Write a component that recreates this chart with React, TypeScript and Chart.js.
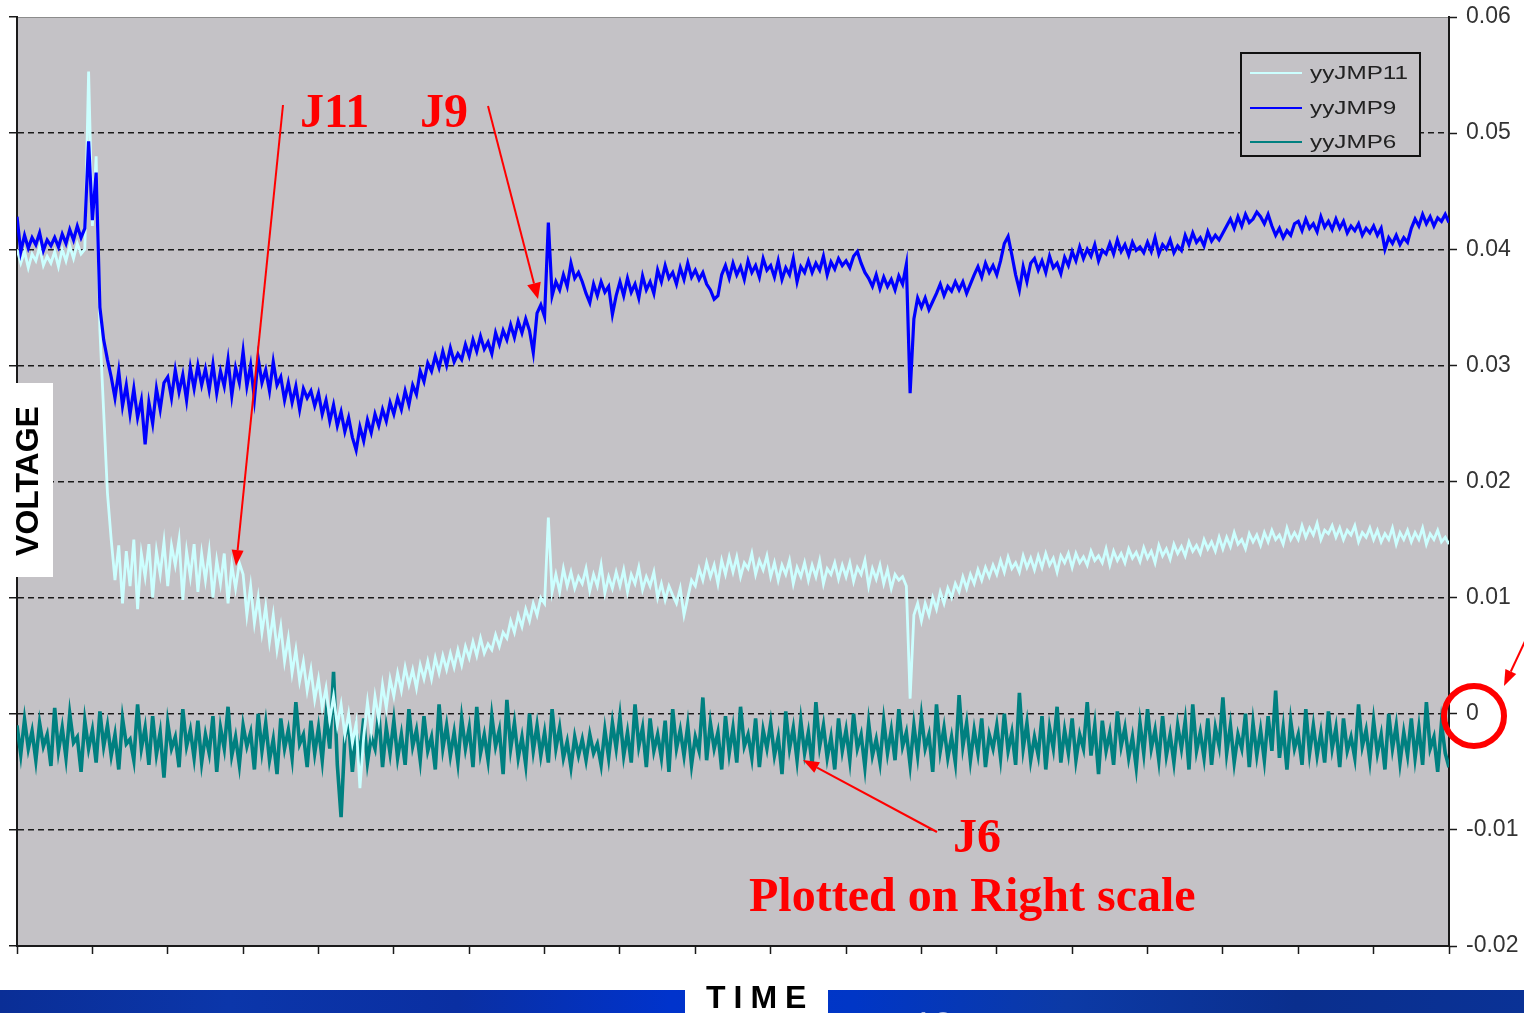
import React, { useEffect, useRef } from "react";
import { Chart, registerables } from "chart.js";

Chart.register(...registerables);

// ---------- DATA (values in units of 0.0001 V, one sample every 0.05 time-division) ----------
const SERIES_NAMES = ["yyJMP11", "yyJMP9", "yyJMP6"];
const SAMPLE_STEP = 0.05; // time divisions per sample
const TIME_DIVISIONS = 19;
const Y_MIN = -0.02;
const Y_MAX = 0.06;
const Y_STEP = 0.01;
const VALUE_UNIT = 0.0001;

// J9 (blue, left scale)
const yyJMP9 = [
  428,398,412,401,410,404,414,399,408,403,
  410,402,413,405,417,408,420,410,418,493,
  425,466,350,322,305,290,272,295,265,283,
  258,280,255,270,232,268,250,280,262,285,
  290,272,296,277,292,270,298,280,300,283,
  297,279,301,276,295,282,305,274,298,285,
  312,282,300,271,306,285,296,278,303,283,
  290,270,285,268,282,262,280,272,278,265,
  276,258,270,252,266,248,260,243,255,238,
  227,247,235,253,242,258,248,262,252,268,
  258,272,262,278,266,283,275,295,286,302,
  295,308,298,312,300,315,303,310,305,318,
  308,322,312,325,314,320,310,328,318,330,
  322,335,324,338,328,340,330,311,345,352,
  342,423,360,372,365,378,368,388,375,380,
  372,362,354,370,360,372,363,368,344,360,
  372,360,375,363,370,358,377,365,372,362,
  382,372,386,375,380,370,384,374,388,376,
  382,374,380,370,365,357,360,378,386,375,
  388,378,385,374,390,380,386,376,392,382,
  386,376,390,374,384,378,392,372,385,380,
  390,380,388,382,394,378,389,383,392,386,
  390,384,394,398,388,380,375,368,378,366,
  376,368,374,365,377,370,387,276,340,358,
  350,358,348,355,362,370,360,368,364,372,
  365,372,362,370,378,385,376,388,380,386,
  378,390,405,411,395,378,365,385,372,388,
  392,382,390,380,394,384,388,379,393,386,
  398,390,402,392,400,394,404,390,399,396,
  405,396,408,398,404,395,406,399,402,397,
  406,398,410,396,404,400,408,397,403,399,
  412,404,414,406,410,403,415,407,412,408,
  414,420,426,418,428,420,430,423,426,432,
  428,422,430,420,412,418,410,416,412,422,
  424,416,426,418,422,415,428,419,424,417,
  426,418,424,414,420,416,422,412,418,414,
  420,412,418,400,410,405,412,404,410,406,
  418,426,420,430,422,428,420,427,424,430,423,
];

// J11 (light cyan, left scale)
const yyJMP11 = [
  400,388,398,384,396,390,402,386,394,388,
  398,385,400,390,403,392,405,396,400,553,
  420,480,330,260,190,150,115,145,95,140,
  110,150,90,138,118,146,100,140,120,148,
  110,145,128,150,98,140,118,146,105,138,
  115,140,100,132,112,138,95,128,108,130,
  120,85,110,78,100,70,92,62,85,55,
  75,45,65,35,55,28,45,20,38,12,
  30,5,22,-5,15,-10,8,-18,0,-25,
  -8,-64,-20,10,-15,15,-5,25,5,30,
  15,35,20,40,25,38,22,42,30,45,
  30,48,35,50,38,52,40,55,42,58,
  48,62,50,65,52,60,55,68,58,70,
  65,80,70,85,75,90,80,95,85,100,
  95,169,105,120,105,125,110,122,108,118,
  112,125,106,120,110,128,104,118,108,122,
  110,124,105,120,112,126,107,118,110,122,
  100,112,98,110,102,95,108,85,100,115,
  110,125,115,130,118,128,112,132,120,135,
  122,135,118,130,125,138,120,132,124,136,
  118,130,115,128,120,132,112,126,118,130,
  115,128,118,132,112,125,120,130,116,128,
  118,130,114,126,120,132,110,125,116,128,
  112,124,108,120,115,118,110,13,85,95,
  80,95,85,100,90,105,95,108,100,112,
  105,118,108,120,112,124,115,126,118,128,
  120,132,122,135,125,130,122,136,126,134,
  124,136,126,138,128,134,122,136,130,138,
  126,138,130,135,128,140,132,136,130,142,
  128,140,132,138,130,142,134,139,131,143,
  134,140,130,145,136,142,133,146,138,144,
  136,148,140,145,138,150,142,148,140,152,
  142,152,144,156,146,150,142,155,148,154,
  145,156,148,158,150,154,146,160,150,156,
  150,162,152,160,154,164,150,158,155,162,
  152,160,150,158,154,162,148,156,152,160,
  150,158,148,155,150,160,146,156,150,158,
  148,156,150,160,146,155,150,158,148,152,146,
];

// J6 (teal, right scale)
const yyJMP6 = [
  -10,-35,-5,-30,-15,-40,-8,-28,-18,-45,
  5,-32,-12,-38,0,-25,-20,-50,-6,-30,
  -14,-42,2,-28,-10,-36,-18,-48,-4,-26,
  -22,-40,8,-30,-12,-44,-2,-35,-16,-55,
  -8,-30,-20,-46,4,-28,-14,-38,-6,-42,
  -18,-34,-2,-50,-12,-30,6,-36,-20,-44,
  -10,-28,-16,-48,0,-32,-8,-40,-22,-52,
  -4,-30,-14,-38,10,-26,-18,-46,-6,-34,
  -12,-40,-2,-30,36,-44,-89,-20,-8,-50,
  -16,-36,-4,-42,-20,-30,2,-46,-12,-34,
  -6,-38,-18,-44,4,-28,-14,-40,-2,-32,
  -20,-48,8,-30,-10,-36,-16,-42,-4,-30,
  -12,-46,6,-34,-18,-40,-2,-28,-14,-52,
  12,-30,-8,-38,-20,-44,0,-32,-10,-36,
  -16,-42,4,-30,-12,-38,-24,-46,-20,-36,
  -22,-40,-18,-34,-26,-44,-14,-38,-8,-30,
  -2,-36,-16,-42,8,-28,-12,-46,-4,-32,
  -18,-38,-6,-50,4,-30,-14,-36,-10,-44,
  -20,-32,14,-40,-8,-30,-16,-48,-2,-34,
  -12,-42,6,-28,-18,-38,-4,-46,-14,-30,
  -8,-36,-20,-52,2,-30,-12,-40,-6,-34,
  -16,-44,10,-28,-10,-38,-20,-48,-4,-32,
  -14,-40,0,-30,-18,-46,-8,-36,-22,-42,
  -6,-34,-14,-40,4,-28,-16,-44,-10,-36,
  -2,-30,-18,-50,8,-32,-12,-38,-20,-42,
  16,-28,-8,-40,-14,-34,-4,-46,-18,-30,
  -10,-38,0,-32,-16,-44,18,-30,-8,-40,
  -20,-36,-2,-48,-12,-30,6,-42,-14,-34,
  -4,-40,-18,-30,10,-36,-10,-52,-6,-32,
  -16,-44,2,-28,-12,-38,-20,-46,-8,-34,
  4,-30,-14,-40,-2,-36,-18,-42,-10,-30,
  -6,-48,8,-32,-16,-38,-4,-44,-12,-28,
  14,-34,-10,-42,-18,-30,0,-46,-8,-36,
  -14,-40,-2,-32,20,-38,-12,-48,-6,-30,
  -18,-44,4,-34,-10,-36,-16,-42,2,-30,
  -12,-46,-4,-32,-20,-38,8,-28,-14,-40,
  -6,-34,-18,-48,0,-30,-10,-42,-16,-36,
  -4,-38,-12,-44,10,-30,-20,-50,-8,-34,-46,
];

// ---------- STYLE ----------
const PLOT_BG = "#c4c2c6";
const AXIS_COLOR = "#1a1a1a";
const COLOR_J11 = "#ccffff";
const COLOR_J9 = "#0000ff";
const COLOR_J6 = "#008080";
const RED = "#ff0000";

const toPoints = (arr: number[]) =>
  arr.map((v, i) => ({ x: i * SAMPLE_STEP, y: v * VALUE_UNIT }));

const near = (a: number, b: number) => Math.abs(a - b) < 1e-9;

const plotBgPlugin = {
  id: "plotBg",
  beforeDraw(chart: any) {
    const { ctx, chartArea: a } = chart;
    ctx.save();
    ctx.fillStyle = PLOT_BG;
    ctx.fillRect(a.left, a.top, a.right - a.left, a.bottom - a.top);
    ctx.strokeStyle = "#8c8c8c";
    ctx.lineWidth = 1;
    ctx.beginPath();
    ctx.moveTo(a.left, a.top + 0.5);
    ctx.lineTo(a.right, a.top + 0.5);
    ctx.stroke();
    ctx.restore();
  },
};

function Arrow({ x1, y1, x2, y2, head = 16, half = 6 }: any) {
  const dx = x2 - x1;
  const dy = y2 - y1;
  const L = Math.hypot(dx, dy);
  const ux = dx / L;
  const uy = dy / L;
  const bx = x2 - ux * head;
  const by = y2 - uy * head;
  const px = -uy;
  const py = ux;
  return (
    <g>
      <line x1={x1} y1={y1} x2={bx} y2={by} stroke={RED} strokeWidth={2} />
      <polygon
        points={`${x2},${y2} ${bx + px * half},${by + py * half} ${bx - px * half},${by - py * half}`}
        fill={RED}
      />
    </g>
  );
}

export default function App() {
  const canvasRef = useRef<HTMLCanvasElement | null>(null);

  useEffect(() => {
    if (!canvasRef.current) return;
    const tickStyle = { tickLength: 8, tickColor: AXIS_COLOR, tickWidth: 1.5 };
    const chart = new Chart(canvasRef.current, {
      type: "line",
      data: {
        datasets: [
          {
            label: SERIES_NAMES[1],
            data: toPoints(yyJMP9),
            borderColor: COLOR_J9,
            borderWidth: 3.2,
            pointRadius: 0,
            tension: 0,
            yAxisID: "y",
          },
          {
            label: SERIES_NAMES[0],
            data: toPoints(yyJMP11),
            borderColor: COLOR_J11,
            borderWidth: 2.8,
            pointRadius: 0,
            tension: 0,
            yAxisID: "y",
          },
          {
            label: SERIES_NAMES[2],
            data: toPoints(yyJMP6),
            borderColor: COLOR_J6,
            borderWidth: 3.6,
            pointRadius: 0,
            tension: 0,
            yAxisID: "y1",
          },
        ],
      },
      options: {
        responsive: false,
        maintainAspectRatio: false,
        animation: false,
        devicePixelRatio: 1,
        events: [],
        layout: { padding: { top: 17, left: 0, right: 0, bottom: 0 } },
        plugins: { legend: { display: false }, tooltip: { enabled: false } },
        scales: {
          x: {
            type: "linear",
            min: 0,
            max: TIME_DIVISIONS,
            ticks: { display: false, stepSize: 1 },
            grid: { drawOnChartArea: false, ...tickStyle },
            border: { display: true, color: AXIS_COLOR, width: 2 },
            afterFit(s: any) {
              s.height = 67;
              s.paddingLeft = 0;
              s.paddingRight = 0;
            },
          },
          y: {
            type: "linear",
            position: "left",
            min: Y_MIN,
            max: Y_MAX,
            ticks: { display: false, stepSize: Y_STEP },
            grid: {
              color: (c: any) =>
                c.tick && (near(c.tick.value, Y_MAX) || near(c.tick.value, Y_MIN))
                  ? "rgba(0,0,0,0)"
                  : AXIS_COLOR,
              lineWidth: 1.5,
              ...tickStyle,
            },
            border: { display: true, color: AXIS_COLOR, width: 2, dash: [6, 4] },
            afterFit(s: any) {
              s.width = 17;
              s.paddingTop = 0;
              s.paddingBottom = 0;
            },
          },
          y1: {
            type: "linear",
            position: "right",
            min: Y_MIN,
            max: Y_MAX,
            ticks: {
              stepSize: Y_STEP,
              color: "#333333",
              padding: 9,
              font: { family: "'Liberation Sans', Arial, sans-serif", size: 23 },
              callback: (v: any) => (near(Number(v), 0) ? "0" : Number(v).toFixed(2)),
            },
            grid: { drawOnChartArea: false, ...tickStyle },
            border: { display: true, color: AXIS_COLOR, width: 2 },
            afterFit(s: any) {
              s.width = 75;
              s.paddingTop = 0;
              s.paddingBottom = 0;
            },
          },
        },
      },
      plugins: [plotBgPlugin],
    } as any);
    return () => chart.destroy();
  }, []);

  const legendColors = [COLOR_J11, COLOR_J9, COLOR_J6];
  const legendY = [73, 108, 142];

  return (
    <div
      style={{
        position: "absolute",
        left: 0,
        top: 0,
        width: 1524,
        height: 1013,
        background: "#ffffff",
        overflow: "hidden",
      }}
    >
      <canvas
        ref={canvasRef}
        width={1524}
        height={1013}
        style={{ position: "absolute", left: 0, top: 0, width: 1524, height: 1013 }}
      />
      <svg
        width={1524}
        height={1013}
        style={{ position: "absolute", left: 0, top: 0, pointerEvents: "none" }}
      >
        <defs>
          <linearGradient id="band" x1="0" y1="0" x2="1" y2="0">
            <stop offset="0" stopColor="#0a2e96" />
            <stop offset="0.15" stopColor="#0b36aa" />
            <stop offset="0.3" stopColor="#0a2fa2" />
            <stop offset="0.44" stopColor="#0033cc" />
            <stop offset="0.56" stopColor="#0036c6" />
            <stop offset="0.7" stopColor="#0c3aa6" />
            <stop offset="0.85" stopColor="#0a2f8e" />
            <stop offset="1" stopColor="#0a3296" />
          </linearGradient>
        </defs>

        {/* legend */}
        <rect x={1241} y={53} width={179} height={103} fill={PLOT_BG} stroke="#111" strokeWidth={2} />
        {SERIES_NAMES.map((name, i) => (
          <g key={name}>
            <line x1={1250} y1={legendY[i]} x2={1302} y2={legendY[i]} stroke={legendColors[i]} strokeWidth={2} />
            <text
              transform={`translate(1310,${legendY[i] + 6}) scale(1.35,1)`}
              fontFamily="'Liberation Sans', Arial, sans-serif"
              fontSize={18}
              fill="#222"
            >
              {name}
            </text>
          </g>
        ))}

        {/* annotations */}
        <g fontFamily="'Liberation Serif', 'Times New Roman', serif" fontWeight="bold" fill={RED} fontSize={48}>
          <text x={300} y={127}>J11</text>
          <text x={420} y={127}>J9</text>
          <text x={953} y={852}>J6</text>
          <text x={749} y={911}>Plotted on Right scale</text>
        </g>
        <Arrow x1={283} y1={105} x2={236} y2={566} />
        <Arrow x1={488} y1={106} x2={538} y2={299} head={16} half={7} />
        <Arrow x1={937} y1={832} x2={803} y2={760} />
        <Arrow x1={1527} y1={637} x2={1504} y2={686} />
        <circle cx={1474} cy={716} r={30} fill="none" stroke={RED} strokeWidth={6} />

        {/* axis titles */}
        <rect x={0} y={383} width={53} height={194} fill="#ffffff" />
        <text
          transform="translate(38,481) rotate(-90)"
          textAnchor="middle"
          fontFamily="'Liberation Sans', Arial, sans-serif"
          fontWeight="bold"
          fontSize={32}
          fill="#000"
        >
          VOLTAGE
        </text>

        {/* bottom slide band */}
        <rect x={0} y={990} width={1524} height={23} fill="url(#band)" />
        <text x={913} y={1038} fontFamily="'Liberation Sans', Arial, sans-serif" fontSize={36} fill="#aebce6">
          10
        </text>
        <rect x={685} y={975} width={143} height={38} fill="#ffffff" />
        <text
          x={706}
          y={1008}
          fontFamily="'Liberation Sans', Arial, sans-serif"
          fontWeight="bold"
          fontSize={32}
          letterSpacing={8}
          fill="#000"
        >
          TIME
        </text>
      </svg>
    </div>
  );
}
